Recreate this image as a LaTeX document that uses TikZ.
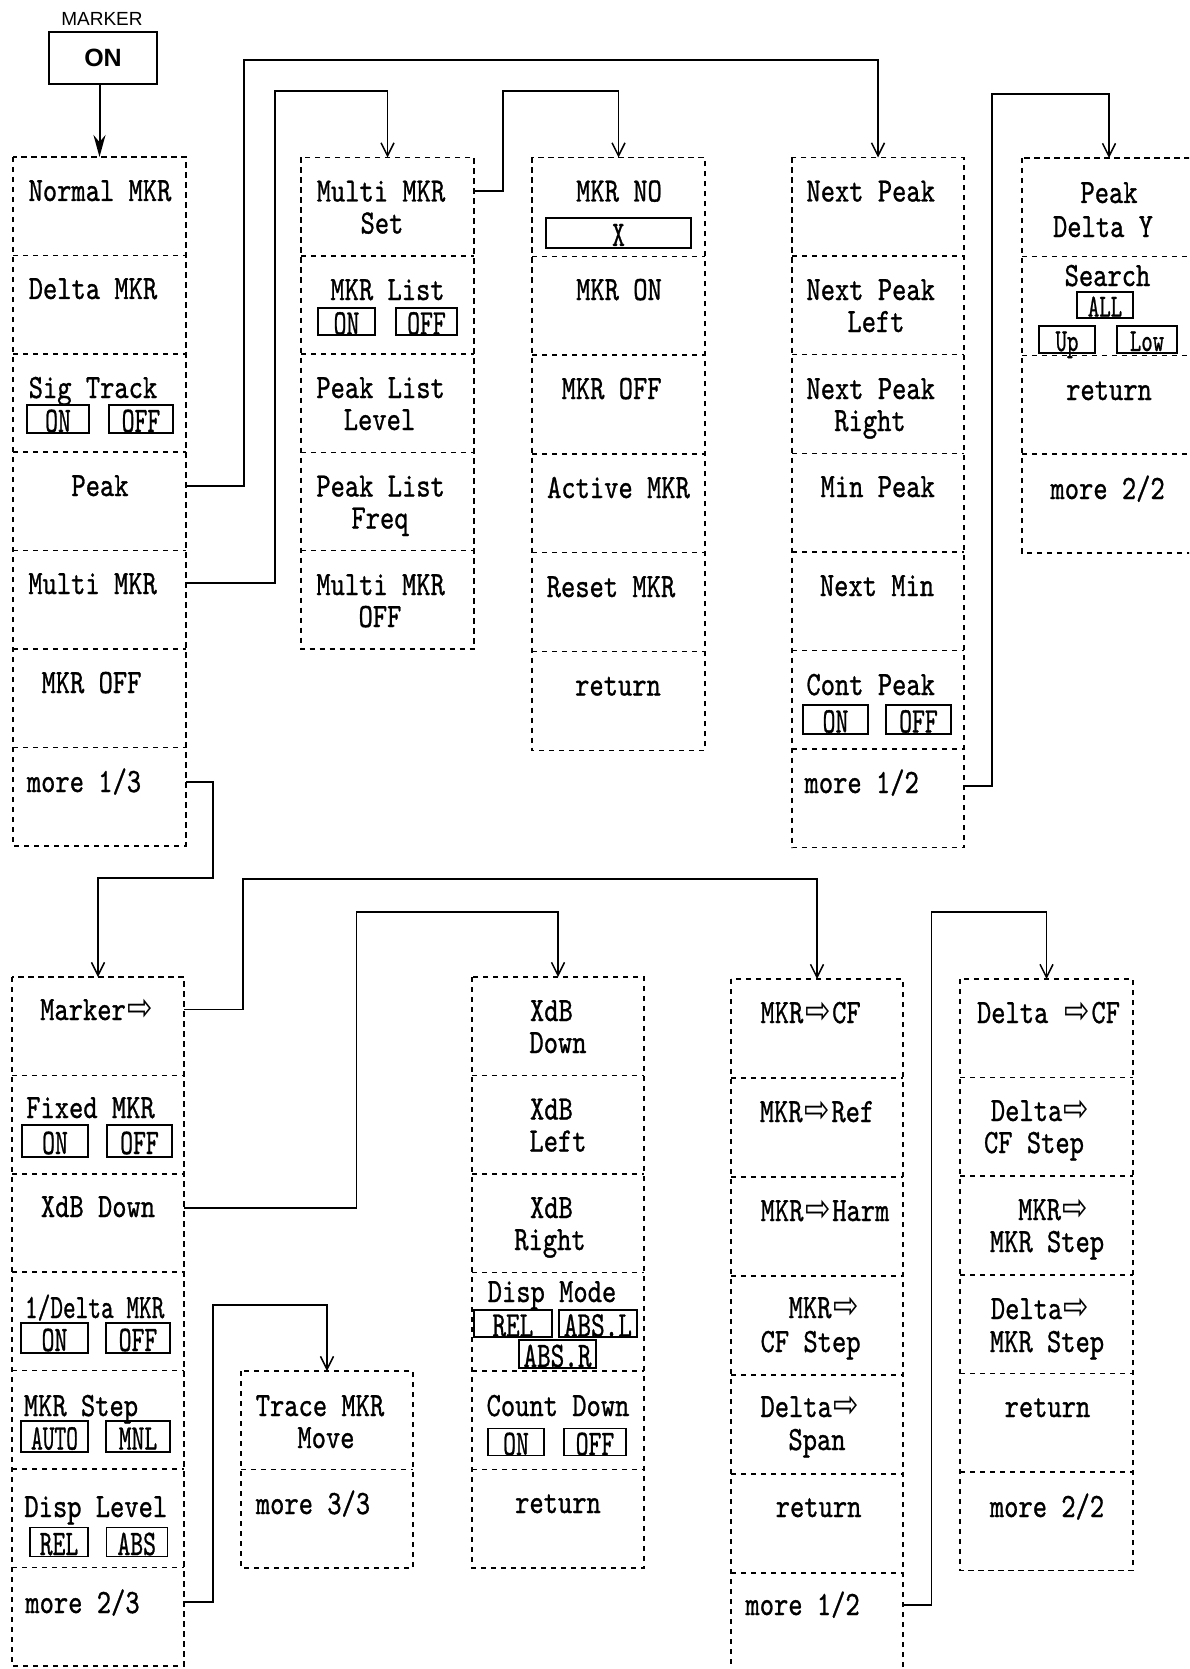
\documentclass[tikz,border=0pt]{standalone}
\usepackage{fontspec}
\usepackage{graphicx}
\usetikzlibrary{arrows.meta}
\newfontfamily\arrowfont{DejaVu Sans}
\newfontfamily\labsans{Liberation Sans}
\newfontfamily\mkfont[FakeBold=1]{lmmono10-regular.otf}
\newcommand\mkt[2][0.8]{\scalebox{#1}[1]{\mkfont\fontsize{17}{16}\selectfont #2}}
\newcommand\tgt[2][0.68]{\scalebox{#1}[1]{\mkfont\fontsize{18}{18}\selectfont #2}}
\newcommand\tgs[2][0.68]{\scalebox{#1}[1]{\mkfont\fontsize{16}{16}\selectfont #2}}
\newcommand\mkarr{\makebox[18pt]{\arrowfont\fontsize{19}{19}\selectfont ⇨}}
\newcommand\mklbl[3]{\node[lbl] (#1) at (#2) {#3};}
\newcommand\mktog[5]{\node[tog, minimum width=#3, minimum height=#4] (#1) at (#2) {#5};}
\newcommand\mkcolumn[6]{%
  \foreach \i in {1,...,#5}{%
    \node[cellbox, minimum width={(#3-#2)*0.5pt}, minimum height={#6*0.5pt}] (#1-\i) at ({(#2+#3)/2},{#4+(\i-0.5)*#6}) {};
  }%
  \draw[dsh] (#1-1.north west) rectangle (#1-#5.south east);
  \foreach \i in {2,...,#5}{\draw[dsh] (#1-\i.north west) -- (#1-\i.north east);}%
}
\begin{document}
\begin{tikzpicture}[x=0.5pt,y=-0.5pt,
  dsh/.style={line width=0.75pt, dash pattern=on 2.6pt off 2.4pt},
  cellbox/.style={inner sep=0pt, outer sep=0pt, draw=none},
  lbl/.style={inner sep=0pt, anchor=base},
  tog/.style={draw, line width=0.6pt, inner sep=0pt, text height=13pt, text depth=0pt},
  togs/.style={draw, line width=0.6pt, inner sep=0pt, text height=11.5pt, text depth=0pt},
  conn/.style={line width=0.75pt, -{Straight Barb[length=6.5pt,width=6.5pt]}},
]
\fill[white] (0,0) rectangle (1189,1669);
\useasboundingbox (0,0) rectangle (1189,1669);
\clip (0,0) rectangle (1189,1669);

% columns
\mkcolumn{A1}{13}{186}{157}{7}{98.4}
\mkcolumn{A2}{301}{474}{157.5}{5}{98.3}
\mkcolumn{A3}{532}{705}{157.5}{6}{98.8}
\mkcolumn{A4}{792}{964}{157.5}{7}{98.6}
\mkcolumn{A5}{1022}{1196}{158}{4}{98.7}
\mkcolumn{B1}{12}{184}{977}{7}{98.4}
\mkcolumn{B2}{241}{413}{1371}{2}{98.5}
\mkcolumn{B3}{472}{644}{977}{6}{98.5}
\mkcolumn{B4}{731}{903}{979}{7}{99}
\mkcolumn{B5}{960}{1133}{979}{6}{98.6}

% MARKER ON key
\node[font=\labsans\fontsize{9.5}{9.5}\selectfont, anchor=base, inner sep=0pt] (mklab) at (102,26) {MARKER};
\node[draw, line width=1.3pt, minimum width=54pt, minimum height=26pt, inner sep=0pt,
      font=\labsans\bfseries\fontsize{12.5}{12.5}\selectfont] (on) at (103,58) {ON};
\draw[line width=1pt, -{Stealth[length=11pt,width=6pt]}] (on.south -| A1-1.north) -- (A1-1.north);

% A1
\mklbl{a1r1}{100,201}{\mkt{Normal MKR}}
\mklbl{a1r2}{93,299}{\mkt{Delta MKR}}
\mklbl{a1r3}{93,398}{\mkt{Sig Track}}
\mktog{a1r3on}{58,419}{31pt}{14pt}{\tgt{ON}}
\mktog{a1r3off}{141,419}{32pt}{14pt}{\tgt{OFF}}
\mklbl{a1r4}{100,496}{\mkt{Peak}}
\mklbl{a1r5}{92.6,594}{\mkt{Multi MKR}}
\mklbl{a1r6}{91.5,693}{\mkt{MKR OFF}}
\mklbl{a1r7}{84,792}{\mkt{more 1/3}}

% A2
\mklbl{a2r1a}{381,201.5}{\mkt{Multi MKR}}
\mklbl{a2r1b}{382,233.5}{\mkt{Set}}
\mklbl{a2r2}{387.5,300}{\mkt{MKR List}}
\mktog{a2r2on}{346.5,321.5}{28.5pt}{13.5pt}{\tgt{ON}}
\mktog{a2r2off}{426.5,321.5}{30.5pt}{13.5pt}{\tgt{OFF}}
\mklbl{a2r3a}{380.6,398}{\mkt{Peak List}}
\mklbl{a2r3b}{379.5,430}{\mkt{Level}}
\mklbl{a2r4a}{380.6,496.5}{\mkt{Peak List}}
\mklbl{a2r4b}{380,528.5}{\mkt{Freq}}
\mklbl{a2r5a}{380.6,595}{\mkt{Multi MKR}}
\mklbl{a2r5b}{380,627}{\mkt{OFF}}

% A3
\mklbl{a3r1}{619,201.5}{\mkt{MKR NO}}
\mktog{a3r1x}{618.5,233}{72.5pt}{15pt}{\tgt{X}}
\mklbl{a3r2}{619,300}{\mkt{MKR ON}}
\mklbl{a3r3}{611.6,399}{\mkt{MKR OFF}}
\mklbl{a3r4}{618.5,498}{\mkt{Active MKR}}
\mklbl{a3r5}{611,597}{\mkt{Reset MKR}}
\mklbl{a3r6}{618,695.5}{\mkt{return}}

% A4
\mklbl{a4r1}{870.7,201.5}{\mkt{Next Peak}}
\mklbl{a4r2a}{870.7,300}{\mkt{Next Peak}}
\mklbl{a4r2b}{876,332}{\mkt{Left}}
\mklbl{a4r3a}{870.7,399}{\mkt{Next Peak}}
\mklbl{a4r3b}{870,431}{\mkt{Right}}
\mklbl{a4r4}{877.7,497}{\mkt{Min Peak}}
\mklbl{a4r5}{877,596}{\mkt{Next Min}}
\mklbl{a4r6}{870.7,695}{\mkt{Cont Peak}}
\mktog{a4r6on}{835.5,719.5}{32.5pt}{14.5pt}{\tgt{ON}}
\mktog{a4r6off}{918.5,719.5}{32.5pt}{14.5pt}{\tgt{OFF}}
\mklbl{a4r7}{861.7,793}{\mkt{more 1/2}}

% A5
\mklbl{a5r1a}{1109,203}{\mkt{Peak}}
\mklbl{a5r1b}{1103,237}{\mkt{Delta Y}}
\mklbl{a5r2}{1107.5,286}{\mkt{Search}}
\node[togs, minimum width=28pt, minimum height=13pt] (a5r2all) at (1105,305) {\tgs{ALL}};
\node[togs, minimum width=28pt, minimum height=13.5pt] (a5r2up) at (1067,339.5) {\tgs{Up}};
\node[togs, minimum width=30pt, minimum height=13.5pt] (a5r2low) at (1147,339.5) {\tgs{Low}};
\mklbl{a5r3}{1109,400}{\mkt{return}}
\mklbl{a5r4}{1107.6,499}{\mkt{more 2/2}}

% B1
\mklbl{b1r1}{97.4,1020}{\mkt{Marker\mkarr}}
\mklbl{b1r2}{90.5,1118}{\mkt{Fixed MKR}}
\mktog{b1r2on}{55,1141}{33pt}{16pt}{\tgt{ON}}
\mktog{b1r2off}{139.5,1141}{32.5pt}{16pt}{\tgt{OFF}}
\mklbl{b1r3}{98,1217}{\mkt{XdB Down}}
\mklbl{b1r4}{94.7,1318}{\mkt[0.71]{1/Delta MKR}}
\mktog{b1r4on}{54.5,1338}{33.5pt}{15pt}{\tgt{ON}}
\mktog{b1r4off}{138,1338}{32pt}{15pt}{\tgt{OFF}}
\mklbl{b1r5}{81,1416}{\mkt{MKR Step}}
\mktog{b1r5auto}{54.5,1436.5}{33.5pt}{15.5pt}{\tgt[0.62]{AUTO}}
\mktog{b1r5mnl}{138,1436.5}{32pt}{15.5pt}{\tgt{MNL}}
\mklbl{b1r6}{95.8,1517}{\mkt{Disp Level}}
\mktog{b1r6rel}{59,1542}{29pt}{14.5pt}{\tgt{REL}}
\mktog{b1r6abs}{136.7,1542}{30.5pt}{14.5pt}{\tgt{ABS}}
\mklbl{b1r7}{82.5,1613}{\mkt{more 2/3}}

% B2
\mklbl{b2r1a}{320,1416}{\mkt{Trace MKR}}
\mklbl{b2r1b}{326,1448}{\mkt{Move}}
\mklbl{b2r2}{313,1514}{\mkt{more 3/3}}

% B3
\mklbl{b3r1a}{551.4,1021}{\mkt{XdB}}
\mklbl{b3r1b}{558,1053}{\mkt{Down}}
\mklbl{b3r2a}{551.4,1119.5}{\mkt{XdB}}
\mklbl{b3r2b}{558,1151.5}{\mkt{Left}}
\mklbl{b3r3a}{551.4,1218}{\mkt{XdB}}
\mklbl{b3r3b}{550,1250}{\mkt{Right}}
\mklbl{b3r4}{552,1302}{\mkt{Disp Mode}}
\mktog{b3r4rel}{512.9,1323.5}{39pt}{13.5pt}{\tgt[0.72]{REL}}
\mktog{b3r4absl}{597.9,1323.5}{39pt}{13.5pt}{\tgt[0.72]{ABS.L}}
\mktog{b3r4absr}{557.5,1354}{38.5pt}{14pt}{\tgt[0.72]{ABS.R}}
\mklbl{b3r5}{558,1416}{\mkt{Count Down}}
\mktog{b3r5on}{516,1442}{28pt}{13.5pt}{\tgt{ON}}
\mktog{b3r5off}{595,1442}{31pt}{13.5pt}{\tgt{OFF}}
\mklbl{b3r6}{558,1513}{\mkt{return}}

% B4
\mklbl{b4r1}{810.6,1023}{\mkt{MKR\mkarr CF}}
\mklbl{b4r2}{817,1122}{\mkt{MKR\mkarr Ref}}
\mklbl{b4r3}{825,1221}{\mkt{MKR\mkarr Harm}}
\mklbl{b4r4a}{824.5,1318}{\mkt{MKR\mkarr}}
\mklbl{b4r4b}{810.6,1352}{\mkt{CF Step}}
\mklbl{b4r5a}{810.6,1417}{\mkt{Delta\mkarr}}
\mklbl{b4r5b}{817,1450}{\mkt{Span}}
\mklbl{b4r6}{818.6,1517}{\mkt{return}}
\mklbl{b4r7}{802.6,1615}{\mkt{more 1/2}}

% B5
\mklbl{b5r1}{1048.5,1023}{\mkt{Delta \mkarr CF}}
\mklbl{b5r2a}{1041,1121}{\mkt{Delta\mkarr}}
\mklbl{b5r2b}{1034,1153}{\mkt{CF Step}}
\mklbl{b5r3a}{1054,1220}{\mkt{MKR\mkarr}}
\mklbl{b5r3b}{1047,1252}{\mkt{MKR Step}}
\mklbl{b5r4a}{1041,1319}{\mkt{Delta\mkarr}}
\mklbl{b5r4b}{1047,1352}{\mkt{MKR Step}}
\mklbl{b5r5}{1047.5,1417}{\mkt{return}}
\mklbl{b5r6}{1047,1517}{\mkt{more 2/2}}

% connector corners
\coordinate (k1) at (244,60);
\coordinate (k2) at (275,91);
\coordinate (k3) at (503,91);
\coordinate (k4) at (992,94);
\coordinate (k5) at (213,878);
\coordinate (k6) at (243,879);
\coordinate (k7) at (356.6,912);
\coordinate (k8) at (213,1305);
\coordinate (k9) at (931.5,912);

\draw[conn] ([yshift=-16.9pt]A1-4.north east) -| (k1) -| (A4-1.north);
\draw[conn] ([yshift=-16.2pt]A1-5.north east) -| (k2) -| (A2-1.north);
\draw[conn] ([yshift=-16.75pt]A2-1.north east) -| (k3) -| (A3-1.north);
\draw[conn] ([yshift=-18.5pt]A4-7.north east) -| (k4) -| (A5-1.north);
\draw[conn] ([yshift=-17.3pt]A1-7.north east) -| (k5) -| (B1-1.north);
\draw[conn] ([yshift=-16.25pt]B1-1.north east) -| (k6) -| (B4-1.north);
\draw[conn] ([yshift=-17.1pt]B1-3.north east) -| (k7) -| (B3-1.north);
\draw[conn] ([yshift=-17.3pt]B1-7.north east) -| (k8) -| (B2-1.north);
\draw[conn] ([yshift=-16pt]B4-7.north east) -| (k9) -| (B5-1.north);
\end{tikzpicture}
\end{document}
